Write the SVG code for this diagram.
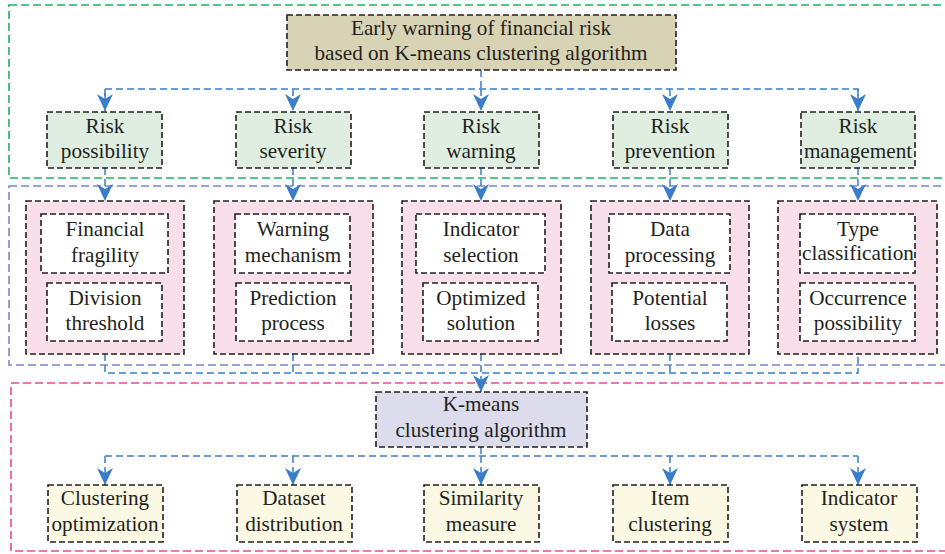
<svg xmlns="http://www.w3.org/2000/svg" width="945" height="554" viewBox="0 0 945 554">
<style>
text{font-family:'Liberation Serif','DejaVu Serif',serif;font-size:21.2px;fill:#231f20;text-anchor:middle}
.box{stroke:#231f20;stroke-width:1.6;stroke-dasharray:6 3}
.cont{fill:none;stroke-width:1.6;stroke-dasharray:8 4}
.conn{fill:none;stroke:#3a7dc9;stroke-width:1.5;stroke-dasharray:7 4}
.t{fill:#d8d3b5}.g{fill:#dfeee0}.p{fill:#f9dfea}.w{fill:#fff}.k{fill:#dcdced}.y{fill:#fbf9e3}
</style>
<defs>
<marker id="ah" viewBox="0 0 17 16" refX="17" refY="8" markerWidth="17" markerHeight="16" markerUnits="userSpaceOnUse" orient="auto">
<path d="M0,0 L17,8 L0,16 L5,8 Z" fill="#3a7dc9"/>
</marker>
</defs>
<rect width="945" height="554" fill="#fff"/>
<g id="containers">
<rect class="cont" x="9" y="5" width="938" height="173" stroke="#22b060"/>
<rect class="cont" x="9" y="186" width="938" height="179" stroke="#7e86c8"/>
<rect class="cont" x="11" y="383" width="936" height="168" stroke="#ee4499"/>
</g>
<g id="connectors">
<path class="conn" d="M481,70 V89 M105,111 V89 H858 V111"/>
<path class="conn" d="M105,89 V111" marker-end="url(#ah)"/>
<path class="conn" d="M293,89 V111" marker-end="url(#ah)"/>
<path class="conn" d="M481,89 V111" marker-end="url(#ah)"/>
<path class="conn" d="M670,89 V111" marker-end="url(#ah)"/>
<path class="conn" d="M858,89 V111" marker-end="url(#ah)"/>
<path class="conn" d="M105,168 V201" marker-end="url(#ah)"/>
<path class="conn" d="M293,168 V201" marker-end="url(#ah)"/>
<path class="conn" d="M481,168 V201" marker-end="url(#ah)"/>
<path class="conn" d="M670,168 V201" marker-end="url(#ah)"/>
<path class="conn" d="M858,168 V201" marker-end="url(#ah)"/>
<path class="conn" d="M105,354 V373 H858 V354 M293,354 V373 M670,354 V373"/>
<path class="conn" d="M481,354 V392" marker-end="url(#ah)"/>
<path class="conn" d="M481,447 V456 M105,456 H858"/>
<path class="conn" d="M105,456 V485" marker-end="url(#ah)"/>
<path class="conn" d="M293,456 V485" marker-end="url(#ah)"/>
<path class="conn" d="M481,456 V485" marker-end="url(#ah)"/>
<path class="conn" d="M670,456 V485" marker-end="url(#ah)"/>
<path class="conn" d="M858,456 V485" marker-end="url(#ah)"/>
</g>
<g id="root"><rect class="box t" x="287" y="15" width="389" height="55"/><text x="481" y="35">Early warning of financial risk</text><text x="481" y="60">based on K-means clustering algorithm</text></g>
<g id="risk-possibility"><rect class="box g" x="47" y="112" width="115" height="56"/><text x="105" y="133">Risk</text><text x="105" y="158">possibility</text></g>
<g id="risk-severity"><rect class="box g" x="236" y="112" width="115" height="56"/><text x="293" y="133">Risk</text><text x="293" y="158">severity</text></g>
<g id="risk-warning"><rect class="box g" x="424" y="112" width="115" height="56"/><text x="481" y="133">Risk</text><text x="481" y="158">warning</text></g>
<g id="risk-prevention"><rect class="box g" x="613" y="112" width="115" height="56"/><text x="670" y="133">Risk</text><text x="670" y="158">prevention</text></g>
<g id="risk-management"><rect class="box g" x="801" y="112" width="114" height="56"/><text x="858" y="133">Risk</text><text x="858" y="158">management</text></g>
<g id="group1"><rect class="box p" x="26" y="201" width="158" height="153"/>
<g id="financial-fragility"><rect class="box w" x="41" y="214" width="127" height="59"/><text x="105" y="236">Financial</text><text x="105" y="262">fragility</text></g>
<g id="division-threshold"><rect class="box w" x="47" y="283" width="115" height="58"/><text x="105" y="305">Division</text><text x="105" y="330">threshold</text></g></g>
<g id="group2"><rect class="box p" x="214" y="201" width="159" height="153"/>
<g id="warning-mechanism"><rect class="box w" x="235" y="214" width="115" height="59"/><text x="293" y="236">Warning</text><text x="293" y="262">mechanism</text></g>
<g id="prediction-process"><rect class="box w" x="236" y="283" width="115" height="58"/><text x="293" y="305">Prediction</text><text x="293" y="330">process</text></g></g>
<g id="group3"><rect class="box p" x="402" y="201" width="159" height="153"/>
<g id="indicator-selection"><rect class="box w" x="416" y="214" width="129" height="59"/><text x="481" y="236">Indicator</text><text x="481" y="262">selection</text></g>
<g id="optimized-solution"><rect class="box w" x="423" y="283" width="115" height="58"/><text x="481" y="305">Optimized</text><text x="481" y="330">solution</text></g></g>
<g id="group4"><rect class="box p" x="591" y="201" width="158" height="153"/>
<g id="data-processing"><rect class="box w" x="609" y="214" width="121" height="59"/><text x="670" y="236">Data</text><text x="670" y="262">processing</text></g>
<g id="potential-losses"><rect class="box w" x="612" y="283" width="115" height="58"/><text x="670" y="305">Potential</text><text x="670" y="330">losses</text></g></g>
<g id="group5"><rect class="box p" x="778" y="201" width="159" height="153"/>
<g id="type-classification"><rect class="box w" x="800" y="214" width="115" height="59"/><text x="858" y="236">Type</text><text x="858" y="260">classification</text></g>
<g id="occurrence-possibility"><rect class="box w" x="800" y="283" width="115" height="58"/><text x="858" y="305">Occurrence</text><text x="858" y="330">possibility</text></g></g>
<g id="kmeans"><rect class="box k" x="376" y="392" width="211" height="55"/><text x="481" y="411">K-means</text><text x="481" y="437">clustering algorithm</text></g>
<g id="clustering-optimization"><rect class="box y" x="48" y="485" width="115" height="57"/><text x="105" y="505">Clustering</text><text x="105" y="531">optimization</text></g>
<g id="dataset-distribution"><rect class="box y" x="237" y="485" width="115" height="57"/><text x="294" y="505">Dataset</text><text x="294" y="531">distribution</text></g>
<g id="similarity-measure"><rect class="box y" x="424" y="485" width="115" height="57"/><text x="481" y="505">Similarity</text><text x="481" y="531">measure</text></g>
<g id="item-clustering"><rect class="box y" x="613" y="485" width="115" height="57"/><text x="670" y="505">Item</text><text x="670" y="531">clustering</text></g>
<g id="indicator-system"><rect class="box y" x="802" y="485" width="115" height="57"/><text x="859" y="505">Indicator</text><text x="859" y="531">system</text></g>
</svg>
